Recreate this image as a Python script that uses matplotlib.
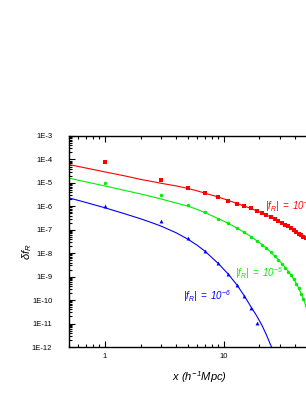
import numpy as np
import matplotlib
matplotlib.use("Agg")
import matplotlib.pyplot as plt
from matplotlib.ticker import FixedLocator, FixedFormatter, LogLocator, NullFormatter

plt.rcParams['font.family'] = ['Liberation Sans', 'DejaVu Sans']
plt.rcParams['mathtext.fontset'] = 'custom'
plt.rcParams['mathtext.rm'] = 'Liberation Sans:italic'
plt.rcParams['mathtext.it'] = 'Liberation Sans:italic'
plt.rcParams['mathtext.bf'] = 'Liberation Sans:bold:italic'

# ---- data (log10 of delta f_R) ----
x_pts = [1, 3, 5, 7, 9, 11, 13, 15, 17, 19, 21, 23, 25, 27, 29, 31, 33, 35,
         37, 39, 41, 43, 45, 47, 49, 51]
red_pts_log = [-4.11, -4.86, -5.23, -5.44, -5.60, -5.76, -5.88, -5.99, -6.09,
               -6.19, -6.28, -6.37, -6.45, -6.54, -6.62, -6.70, -6.78, -6.86,
               -6.94, -7.02, -7.09, -7.16, -7.23, -7.30, -7.37, -7.44]
green_pts_log = [-5.00, -5.50, -5.96, -6.26, -6.52, -6.73, -6.93, -7.11, -7.30,
                 -7.47, -7.63, -7.79, -7.96, -8.13, -8.29, -8.46, -8.62, -8.78,
                 -8.95, -9.12, -9.30, -9.50, -9.72, -9.97, -10.20, -10.50]
blue_x_pts = [1, 3, 5, 7, 9, 11, 13, 15, 17, 19]
blue_pts_log = [-5.99, -6.63, -7.37, -7.92, -8.43, -8.90, -9.36, -9.83, -10.32, -10.99]

x_line = [0.5, 0.7, 1, 1.5, 2, 2.5, 3, 4, 5, 6, 7, 9, 11, 13, 15, 17, 19, 21,
          23, 25, 27, 29, 31, 33, 35, 37, 39, 41, 43, 45, 47, 49, 51, 53]
red_line_log = [-4.22, -4.37, -4.53, -4.71, -4.85, -4.94, -5.02, -5.13, -5.235,
                -5.34, -5.44, -5.60, -5.75, -5.88, -5.99, -6.09, -6.19, -6.28,
                -6.37, -6.45, -6.54, -6.62, -6.70, -6.78, -6.86, -6.94, -7.02,
                -7.09, -7.16, -7.23, -7.30, -7.37, -7.44, -7.51]
green_line_log = [-4.80, -4.96, -5.13, -5.33, -5.47, -5.59, -5.69, -5.86, -5.99,
                  -6.13, -6.27, -6.52, -6.73, -6.93, -7.11, -7.29, -7.46, -7.62,
                  -7.78, -7.95, -8.12, -8.28, -8.44, -8.60, -8.76, -8.93, -9.11,
                  -9.30, -9.50, -9.72, -9.96, -10.20, -10.50, -10.80]
blue_line_x = [0.5, 0.7, 1, 1.5, 2, 2.5, 3, 4, 5, 6, 7, 9, 11, 13, 15, 17, 19,
               21, 23, 25, 25.6]
blue_line_log = [-5.64, -5.84, -6.06, -6.33, -6.53, -6.70, -6.85, -7.13, -7.40,
                 -7.66, -7.92, -8.43, -8.90, -9.36, -9.83, -10.28, -10.67,
                 -11.06, -11.49, -11.93, -12.05]

ytick_vals = [1e-3, 1e-4, 1e-5, 1e-6, 1e-7, 1e-8, 1e-9, 1e-10, 1e-11, 1e-12]
ytick_labels = ['1E-3', '1E-4', '1E-5', '1E-6', '1E-7', '1E-8', '1E-9',
                '1E-10', '1E-11', '1E-12']
xtick_vals = [1, 10]
xtick_labels = ['1', '10']

RED = '#ff0000'
GREEN = '#00ee00'
BLUE = '#0000ff'

fig = plt.figure(figsize=(3.06, 3.96), dpi=100)
W, H = 306, 396
left_px, right_px, top_px, bot_px = 69, 342.3, 136, 347
ax = fig.add_axes([left_px / W, 1 - bot_px / H, (right_px - left_px) / W,
                   (bot_px - top_px) / H])

p = lambda v: [10 ** a for a in v]
ax.plot(x_line, p(red_line_log), color=RED, lw=0.8)
ax.plot(x_line, p(green_line_log), color=GREEN, lw=0.8)
ax.plot(blue_line_x, p(blue_line_log), color=BLUE, lw=0.8)
ax.plot(x_pts, p(red_pts_log), 's', color=RED, ms=2.3, mew=0)
ax.plot(x_pts, p(green_pts_log), 'o', color=GREEN, ms=2.5, mew=0)
ax.plot(blue_x_pts, p(blue_pts_log), '^', color=BLUE, ms=2.8, mew=0)

ax.set_xscale('log')
ax.set_yscale('log')
ax.set_xlim(0.5, 100)
ax.set_ylim(1e-12, 1e-3)

ax.yaxis.set_major_locator(FixedLocator(ytick_vals))
ax.yaxis.set_major_formatter(FixedFormatter(ytick_labels))
ax.yaxis.set_minor_locator(LogLocator(base=10, subs=np.arange(2, 10), numticks=100))
ax.yaxis.set_minor_formatter(NullFormatter())
ax.xaxis.set_major_locator(FixedLocator(xtick_vals))
ax.xaxis.set_major_formatter(FixedFormatter(xtick_labels))
ax.xaxis.set_minor_locator(LogLocator(base=10, subs=np.arange(2, 10), numticks=100))
ax.xaxis.set_minor_formatter(NullFormatter())

ax.tick_params(which='both', direction='in', top=True, right=True, width=0.8)
ax.tick_params(which='major', length=4)
ax.tick_params(which='minor', length=2.2)
ax.tick_params(axis='y', which='major', labelsize=5.5, pad=12)
ax.tick_params(axis='x', which='major', labelsize=5.5, pad=4)
for s in ax.spines.values():
    s.set_linewidth(1.0)

ax.text(22.4, 1e-6, r'$|f_R|\ =\ 10^{-4}$', color=RED, fontsize=7,
        va='center', ha='left')
ax.text(12.5, 10 ** -8.85, r'$|f_R|\ =\ 10^{-5}$', color=GREEN, fontsize=7,
        va='center', ha='left')
ax.text(4.59, 10 ** -9.83, r'$|f_R|\ =\ 10^{-6}$', color=BLUE, fontsize=7,
        va='center', ha='left')

fig.text(27 / W, 1 - 252 / H, r'$\delta f_R$', rotation=90, fontsize=8,
         ha='center', va='center')
fig.text(200 / W, 1 - 377 / H, r'$x\ (h^{-1}Mpc)$', fontsize=8,
         ha='center', va='center')

fig.savefig('out.png', dpi=100)
